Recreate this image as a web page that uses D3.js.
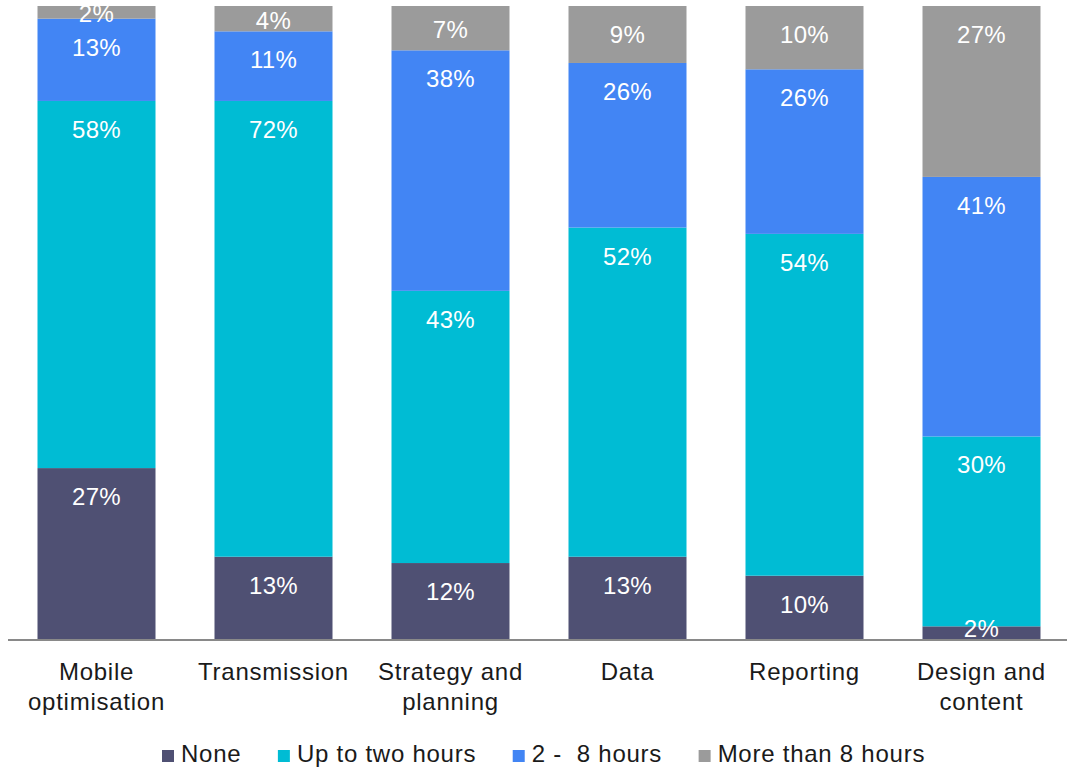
<!DOCTYPE html>
<html>
<head>
<meta charset="utf-8">
<script src="https://cdn.jsdelivr.net/npm/d3@7"></script>
<style>
  html, body { margin: 0; padding: 0; background: #fff; }
  svg { display: block; font-family: "Liberation Sans", Arial, sans-serif; }
</style>
</head>
<body>
<svg id="chart" width="1067" height="771"></svg>
<script>
const categories = [["Mobile", "optimisation"], ["Transmission"], ["Strategy and", "planning"], ["Data"], ["Reporting"], ["Design and", "content"]];
const seriesNames = ["None", "Up to two hours", "2 -  8 hours", "More than 8 hours"];
const seriesColors = ["#4f5073", "#00bcd4", "#4285f4", "#9b9b9b"];
const noneVals = [27, 13, 12, 13, 10, 2];
const upToTwoVals = [58, 72, 43, 52, 54, 30];
const twoToEightVals = [13, 11, 38, 26, 26, 41];
const moreThanEightVals = [2, 4, 7, 9, 10, 27];

const seriesValues = [noneVals, upToTwoVals, twoToEightVals, moreThanEightVals];
const keys = categories.map(c => c.join(" "));
const rows = keys.map((k, i) => {
  const r = { cat: k };
  seriesNames.forEach((s, j) => r[s] = seriesValues[j][i]);
  return r;
});

const svg = d3.select("#chart");
const x = d3.scaleBand().domain(keys).range([8, 1070]).paddingInner(1/3).paddingOuter(1/6);
const y = d3.scaleLinear().domain([0, 100]).range([639, 6]);

const stack = d3.stack().keys(seriesNames);
const stacked = stack(rows);

svg.append("defs").append("clipPath").attr("id", "plotclip")
  .append("rect").attr("x", 0).attr("y", y(100)).attr("width", 1067).attr("height", y(0) - y(100));

const layers = svg.append("g").selectAll("g").data(stacked).join("g")
  .attr("fill", (d, i) => seriesColors[i]);

layers.selectAll("rect").data(d => d).join("rect")
  .attr("x", d => x(d.data.cat))
  .attr("width", x.bandwidth())
  .attr("y", d => y(d[1]))
  .attr("height", d => y(d[0]) - y(d[1]));

const labels = svg.append("g").attr("clip-path", "url(#plotclip)");
stacked.forEach(layer => {
  labels.selectAll(null).data(layer).join("text")
    .attr("x", d => x(d.data.cat) + x.bandwidth() / 2)
    .attr("y", d => {
      const top = y(d[1]);
      const h = y(d[0]) - y(d[1]);
      return Math.min(top + Math.min(37, h / 2 + 10), y(0) - 2);
    })
    .attr("text-anchor", "middle")
    .attr("fill", "#ffffff")
    .attr("font-size", 24)
    .attr("letter-spacing", 0.3)
    .text(d => (d[1] - d[0]) + "%");
});

// axis line
const xAxis = d3.axisBottom(x).tickSize(0).tickFormat("");
const ax = svg.append("g").attr("transform", `translate(0,${y(0) + 1})`).call(xAxis);
ax.select(".domain").attr("stroke", "#898989").attr("stroke-width", 2).attr("d", "M8,0H1067");

// category labels
const catG = svg.append("g");
categories.forEach((lines, i) => {
  const t = catG.append("text")
    .attr("x", x(keys[i]) + x.bandwidth() / 2)
    .attr("y", 680)
    .attr("text-anchor", "middle")
    .attr("fill", "#1a1a1a")
    .attr("font-size", 24)
    .attr("letter-spacing", 0.75);
  lines.forEach((ln, j) => {
    t.append("tspan").attr("x", x(keys[i]) + x.bandwidth() / 2).attr("dy", j === 0 ? 0 : 30).text(ln);
  });
});

// legend
const legend = svg.append("g");
let lx = 162;
seriesNames.forEach((s, i) => {
  const g = legend.append("g").attr("transform", `translate(${lx},0)`);
  g.append("rect").attr("x", 0).attr("y", 750).attr("width", 12).attr("height", 12).attr("fill", seriesColors[i]);
  const t = g.append("text").attr("x", 19).attr("y", 762).attr("font-size", 24).attr("fill", "#1a1a1a")
    .attr("letter-spacing", 0.75)
    .attr("xml:space", "preserve").style("white-space", "pre").text(s);
  const w = t.node().getComputedTextLength();
  lx += 19 + w + 36.5;
});
</script>
</body>
</html>
